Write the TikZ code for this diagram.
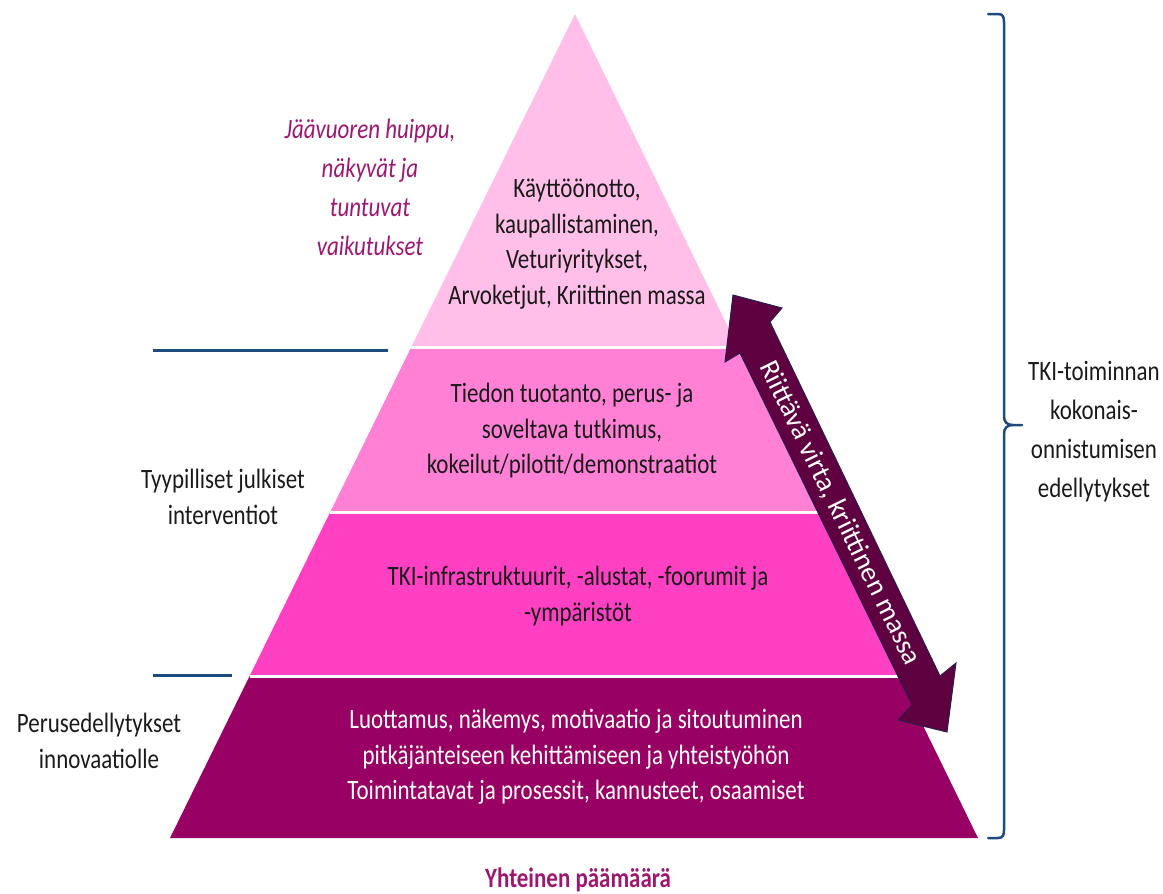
\documentclass[tikz,border=0pt]{standalone}
\usepackage{fontspec}
\setmainfont{Carlito}[FakeStretch=0.82]
\newfontfamily\fullcarl{Carlito}
\usetikzlibrary{calc}
\definecolor{layerA}{HTML}{FFBFE8}
\definecolor{layerB}{HTML}{FF80D5}
\definecolor{layerC}{HTML}{FF40C2}
\definecolor{layerD}{HTML}{990063}
\definecolor{arrowfill}{HTML}{5F0040}
\definecolor{arrowline}{HTML}{2A1E50}
\definecolor{navyline}{HTML}{1F4A7D}
\definecolor{magtext}{HTML}{9E1670}
\definecolor{darktext}{HTML}{1A1A1A}
\tikzset{
  txt/.style={inner sep=0pt, align=center, text=darktext, font=\fontsize{28}{35.5}\selectfont},
  wtxt/.style={txt, text=white},
  itxt/.style={inner sep=0pt, align=center, text=magtext, font=\fontsize{28}{39}\selectfont\itshape},
  rtxt/.style={txt, font=\fontsize{28}{39}\selectfont},
  sepline/.style={white, line width=3pt},
  navy/.style={navyline, line width=3pt},
}
\begin{document}
\begin{tikzpicture}[x=1pt,y=-1pt]
\useasboundingbox (0,0) rectangle (1163,894);
% pyramid corners
\coordinate (A) at (575,14);
\coordinate (BL) at (170,838);
\coordinate (BR) at (978,838);
\coordinate (l1) at ($(A)!0.40534!(BL)$);
\coordinate (r1) at ($(A)!0.40534!(BR)$);
\coordinate (l2) at ($(A)!0.60437!(BL)$);
\coordinate (r2) at ($(A)!0.60437!(BR)$);
\coordinate (l3) at ($(A)!0.80340!(BL)$);
\coordinate (r3) at ($(A)!0.80340!(BR)$);
% layers
\fill[layerA] (A) -- (l1) -- (r1) -- cycle;
\fill[layerB] (l1) -- (l2) -- (r2) -- (r1) -- cycle;
\fill[layerC] (l2) -- (l3) -- (r3) -- (r2) -- cycle;
\fill[layerD] (l3) -- (BL) -- (BR) -- (r3) -- cycle;
\draw[sepline] (l1) -- (r1);
\draw[sepline] (l2) -- (r2);
\draw[sepline] (l3) -- (r3);
% layer texts
\node[txt] (t1) at (577,244) {Käyttöönotto,\\kaupallistaminen,\\Veturiyritykset,\\Arvoketjut, Kriittinen massa};
\node[txt] (t2) at (572,431) {Tiedon tuotanto, perus- ja\\soveltava tutkimus,\\kokeilut/pilotit/demonstraatiot};
\node[txt] (t3) at (578,596) {TKI-infrastruktuurit, -alustat, -foorumit ja\\-ympäristöt};
\node[wtxt] (t4) at (576,757) {Luottamus, näkemys, motivaatio ja sitoutuminen\\pitkäjänteiseen kehittämiseen ja yhteistyöhön\\Toimintatavat ja prosessit, kannusteet, osaamiset};
% left side
\node[itxt] (ice) at (370,187) {Jäävuoren huippu,\\näkyvät ja\\tuntuvat\\vaikutukset};
\coordinate (ua) at (153,350);
\coordinate (ub) at (388,350);
\coordinate (la) at (153,675);
\coordinate (lb) at (232,675);
\draw[navy] (ua) -- (ub);
\draw[navy] (la) -- (lb);
\node[txt] (typ) at (223,497) {Tyypilliset julkiset\\interventiot};
\node[txt] (per) at (99,741) {Perusedellytykset\\innovaatiolle};
\node[inner sep=0pt, text=magtext, font=\fontsize{28}{34}\selectfont\bfseries] (goal) at (578,880) {Yhteinen päämäärä};
% double arrow
\coordinate (T1) at (733,295);
\coordinate (R1b) at (782,308);
\coordinate (R1i) at (770,322);
\coordinate (R2i) at (940,676);
\coordinate (R2b) at (956,663);
\coordinate (T2) at (947,732);
\coordinate (L2b) at (898,720);
\coordinate (L2i) at (912,705);
\coordinate (L1i) at (740,353);
\coordinate (L1b) at (725,362);
\filldraw[fill=arrowfill, draw=arrowline, line width=1pt, line join=miter]
  (T1) -- (R1b) -- (R1i) -- (R2i) -- (R2b) -- (T2) -- (L2b) -- (L2i) -- (L1i) -- (L1b) -- cycle;
\node[inner sep=0pt, text=white, font=\fullcarl\fontsize{28}{34}\selectfont, rotate=-63.9] (flow) at (840,513) {Riittävä virta, kriittinen massa};
% right brace
\draw[navyline, line width=2.5pt, line cap=round]
  (988,14) -- (998,14) .. controls (1003,14) and (1004,17) .. (1004,22)
  -- (1004,416) .. controls (1004,422) and (1007,425) .. (1013,425) -- (1022,425)
  (1013,425) .. controls (1007,425) and (1004,428) .. (1004,434)
  -- (1004,830) .. controls (1004,835) and (1003,838) .. (998,838) -- (988,838);
\node[rtxt] (tki) at (1094,432) {TKI-toiminnan\\kokonais-\\onnistumisen\\edellytykset};
\end{tikzpicture}
\end{document}
